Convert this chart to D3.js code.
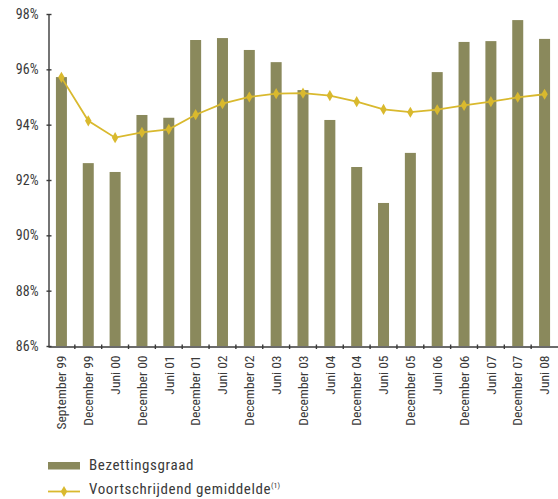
<!DOCTYPE html>
<html><head><meta charset="utf-8">
<script src="https://cdn.jsdelivr.net/npm/d3@7"></script>
<style>
body{margin:0;background:#fff;}
text{font-family:"Liberation Sans Narrow","Roboto Condensed","DejaVu Sans Condensed",sans-serif;fill:#3a3a3a;}
</style></head>
<body><svg id="c" width="558" height="499"></svg>
<script>
const categories = ["September 99","December 99","Juni 00","December 00","Juni 01","December 01","Juni 02","December 02","Juni 03","December 03","Juni 04","December 04","Juni 05","December 05","Juni 06","December 06","Juni 07","December 07","Juni 08"];
const bezetting = [95.72,92.61,92.29,94.35,94.25,97.06,97.13,96.70,96.26,95.25,94.17,92.47,91.17,92.98,95.90,96.99,97.02,97.78,97.10];
const gemiddelde = [95.71,94.14,93.53,93.72,93.83,94.36,94.76,95.00,95.12,95.14,95.05,94.83,94.55,94.45,94.54,94.70,94.83,94.99,95.10];
const yTicks = [86,88,90,92,94,96,98];
const legendLabels = ["Bezettingsgraad","Voortschrijdend gemiddelde"];

const svg = d3.select("#c");
const barColor = "#8a895c", lineColor = "#d9b92e", axisColor = "#3a3a3a";
const x = d3.scaleBand().domain(categories).range([48,558]).padding(0);
const y = d3.scaleLinear().domain([86,98]).range([346,14]);
const bw = 11;

svg.append("g").selectAll("rect").data(categories).join("rect")
  .attr("x", d => x(d) + x.bandwidth()/2 - bw/2)
  .attr("width", bw)
  .attr("y", (d,i) => y(bezetting[i]))
  .attr("height", (d,i) => y(86) - y(bezetting[i]))
  .attr("fill", barColor);

// y axis
const ya = svg.append("g").attr("transform","translate(48.5,0)")
  .call(d3.axisLeft(y).tickValues(yTicks).tickFormat(d => d + "%").tickSizeInner(3).tickSizeOuter(0).tickPadding(7));
ya.select(".domain").attr("stroke", axisColor).attr("stroke-width",1.4);
ya.selectAll(".tick line").attr("stroke", axisColor).attr("stroke-width",1.4).attr("x2",3).attr("x1",-2);
ya.selectAll(".tick text").attr("font-size",14).attr("fill","#3a3a3a").attr("font-family",null);

// x axis
const xa = svg.append("g").attr("transform","translate(0,346.5)")
  .call(d3.axisBottom(x).tickSize(0).tickPadding(9));
xa.select(".domain").attr("stroke", axisColor).attr("stroke-width",1.4);
xa.selectAll(".tick text").attr("font-size",13.5).attr("font-family",null)
  .attr("transform","rotate(-90)").attr("text-anchor","end").attr("dy","0.35em").attr("x",-9).attr("y",0);
xa.selectAll(".bt").data(categories.slice(1)).join("line")
  .attr("x1", d => x(d)).attr("x2", d => x(d)).attr("y1",-2).attr("y2",2.5)
  .attr("stroke", axisColor).attr("stroke-width",1.4);

// line
const line = d3.line().x((d,i) => x(categories[i]) + x.bandwidth()/2).y(d => y(d));
svg.append("path").datum(gemiddelde).attr("d", line).attr("fill","none").attr("stroke",lineColor).attr("stroke-width",1.8);
const diamond = d3.symbol().type(d3.symbolDiamond).size(36);
svg.append("g").selectAll("path").data(gemiddelde).join("path")
  .attr("d", diamond)
  .attr("transform",(d,i) => `translate(${x(categories[i]) + x.bandwidth()/2},${y(d)})`)
  .attr("fill", lineColor);

// legend
const lg = svg.append("g");
lg.append("rect").attr("x",48).attr("y",462).attr("width",32).attr("height",7.5).attr("fill",barColor);
lg.append("text").attr("x",89).attr("y",469.5).attr("font-size",15).attr("letter-spacing",0.6).text(legendLabels[0]);
lg.append("line").attr("x1",48).attr("x2",80).attr("y1",491.5).attr("y2",491.5).attr("stroke",lineColor).attr("stroke-width",1.8);
lg.append("path").attr("d",diamond).attr("transform","translate(64,491.5)").attr("fill",lineColor);
const t2 = lg.append("text").attr("x",89).attr("y",493.5).attr("font-size",15).attr("letter-spacing",0.6).text(legendLabels[1]);
t2.append("tspan").attr("font-size",8).attr("letter-spacing",0).attr("dy",-6).text("(1)");
</script></body></html>
